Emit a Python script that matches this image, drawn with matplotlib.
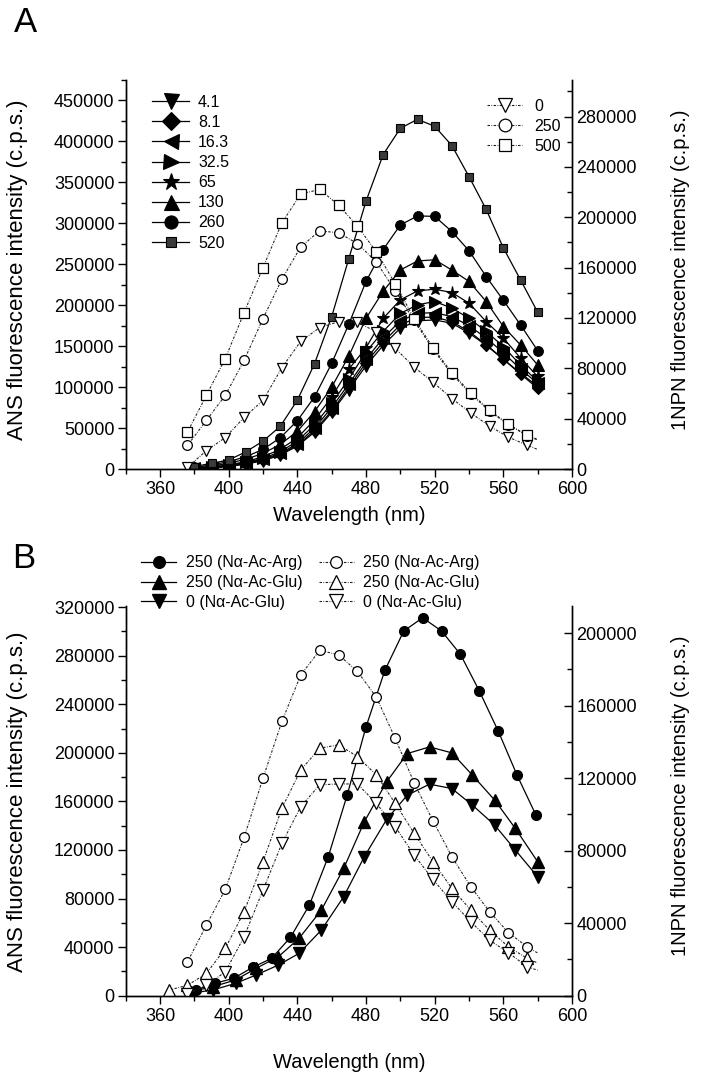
import matplotlib
matplotlib.use('Agg')
import matplotlib.pyplot as plt
from matplotlib.ticker import MultipleLocator

plt.rcParams['font.family'] = ['Liberation Sans', 'DejaVu Sans']

# ---------------- Panel A data ----------------
# ANS (left axis), filled symbols, concentration labels
wl_A_ans = [380, 390, 400, 410, 420, 430, 440, 450, 460, 470, 480,
            490, 500, 510, 520, 530, 540, 550, 560, 570, 580]
ans_4_1 = [400, 1200, 3000, 6000, 10000, 17000, 28000, 45000, 69000, 97000, 126000,
           151000, 172000, 181000, 182000, 178000, 166000, 151000, 134000, 117000, 101000]
ans_8_1 = [500, 1500, 3500, 6500, 11000, 18000, 29000, 47000, 71000, 100000, 130000,
           155000, 176000, 185000, 185500, 180000, 168000, 152000, 134000, 116000, 98500]
ans_16_3 = [700, 1800, 4000, 7500, 12000, 19000, 31000, 50000, 75000, 104000, 134000,
            160000, 181000, 190000, 191000, 186000, 175000, 160000, 142000, 122000, 104500]
ans_32_5 = [800, 2000, 4500, 8000, 13000, 21000, 34000, 54000, 80000, 110000, 143000,
            168000, 190000, 200500, 204500, 196500, 184000, 168000, 149500, 127000, 107000]
ans_65 = [1000, 2500, 5000, 9000, 15000, 24000, 38000, 60000, 88000, 122000, 148000,
          184000, 206500, 217500, 219500, 215500, 202500, 180000, 160000, 135500, 113000]
ans_130 = [1500, 3500, 7000, 12000, 19000, 30000, 46000, 70000, 100000, 138000, 184000,
           217000, 243000, 254000, 255500, 243000, 229000, 204500, 174000, 151500, 127000]
ans_260 = [2000, 5000, 9000, 15000, 24000, 38000, 59000, 88000, 129000, 177000, 229000,
           268000, 298000, 309000, 308500, 290000, 266500, 235000, 206000, 176000, 144500]
ans_520 = [3000, 7000, 11000, 21000, 34000, 52000, 84000, 128500, 186000, 257000, 327000,
           384000, 416000, 427000, 418500, 395000, 357000, 317000, 270000, 231000, 191500]
ans_labels_A = ['4.1', '8.1', '16.3', '32.5', '65', '130', '260', '520']

# 1NPN (right axis), open symbols
wl_A_npn = [376, 387, 398, 409, 420, 431, 442, 453, 464, 475, 486,
            497, 508, 519, 530, 541, 552, 563, 574, 580]
npn_0 = [1500, 14500, 25000, 41000, 54500, 80500, 101500, 112300, 117000, 116500, 109000,
         96000, 81000, 69000, 56000, 44500, 34000, 25300, 18800, 15500]
npn_250 = [18750, 38600, 58500, 86400, 119500, 150800, 176500, 189200, 187600, 179100, 164500,
           141500, 118000, 95000, 75500, 59500, 46000, 35000, 26500, 23000]
npn_500 = [29400, 58500, 87700, 124300, 160000, 195600, 218400, 222100, 209600, 192900, 172500,
           147300, 119500, 96400, 76500, 60500, 46600, 35500, 26700, 23500]
npn_labels_A = ['0', '250', '500']

# ---------------- Panel B data ----------------
wl_B_arg = [381, 392, 403, 414, 425, 436, 447, 458, 469, 480, 491,
            502, 513, 524, 535, 546, 557, 568, 579]
ans_B_250_arg = [4650, 10100, 14300, 23300, 30700, 48000, 74600, 114400, 165100, 221400, 268000,
                 300400, 311300, 300400, 281200, 251000, 218000, 181600, 148700]
wl_B_glu = [378, 391, 404, 416, 429, 441, 454, 467, 479, 492, 504,
            517, 530, 542, 555, 567, 580]
ans_B_250_glu = [3300, 7400, 12900, 22500, 32100, 47200, 70500, 104800, 143200, 176100, 199400,
                 204900, 200000, 181600, 161000, 137700, 110300]
ans_B_0_glu = [1900, 4700, 10100, 17000, 25200, 34800, 54000, 81500, 114400, 145100, 165100,
               174200, 170600, 156900, 140400, 119900, 97900]

wl_B_npn = [376, 387, 398, 409, 420, 431, 442, 453, 464, 475, 486,
            497, 508, 519, 530, 541, 552, 563, 574, 580]
npn_B_250_arg = [18600, 38900, 58600, 87400, 120000, 151300, 177000, 190500, 188100, 178900, 164700,
                 142000, 117500, 96400, 76700, 60100, 46300, 34700, 26900, 23500]
wl_B_npn_glu250 = [365, 376, 387, 398, 409, 420, 431, 442, 453, 464, 475,
                   486, 497, 508, 519, 530, 541, 552, 563, 574, 580]
npn_B_250_glu = [3000, 5700, 12200, 26000, 46300, 73900, 103400, 124500, 136500, 138400, 131900,
                 121800, 106100, 89600, 73900, 59200, 47200, 36100, 26900, 20500, 18000]
npn_B_0_glu = [1100, 5700, 13100, 32500, 58200, 84000, 104300, 116300, 116800, 116800, 106100,
               93200, 77600, 64100, 51800, 40800, 30600, 23600, 15900, 14000]
labels_B = ['250 (N\u03b1-Ac-Arg)', '250 (N\u03b1-Ac-Glu)', '0 (N\u03b1-Ac-Glu)']

# ---------------- Figure ----------------
W, H = 701, 1085
fig = plt.figure(figsize=(W / 100, H / 100), dpi=100)


def rect(l, r, b, t):
    return [l / W, 1 - b / H, (r - l) / W, (b - t) / H]


TICKFS = 13
VLABELFS = 16
RLABELFS = 14.5
HLABELFS = 14.5
DOT = (0, (2.2, 1.3, 0.7, 1.3))
LW = 0.9


def style(ax, ax2, ymaj, ymin, ymaj2, ymin2, ylim, ylim2):
    ax.set_xlim(340, 600)
    ax.set_ylim(*ylim)
    ax2.set_ylim(*ylim2)
    ax.xaxis.set_major_locator(MultipleLocator(40))
    ax.xaxis.set_minor_locator(MultipleLocator(20))
    ax.yaxis.set_major_locator(MultipleLocator(ymaj))
    ax.yaxis.set_minor_locator(MultipleLocator(ymin))
    ax2.yaxis.set_major_locator(MultipleLocator(ymaj2))
    ax2.yaxis.set_minor_locator(MultipleLocator(ymin2))
    for a in (ax, ax2):
        a.spines['top'].set_visible(False)
        for s in a.spines.values():
            s.set_linewidth(1.0)
    ax.tick_params(axis='both', which='major', direction='out', length=6, width=1,
                   labelsize=TICKFS, pad=2)
    ax.tick_params(axis='both', which='minor', direction='out', length=3.5, width=1)
    ax.tick_params(axis='y', right=False)
    ax.tick_params(axis='x', top=False, pad=3)
    ax2.tick_params(axis='y', which='major', direction='in', length=6, width=1,
                    labelsize=TICKFS, pad=3)
    ax2.tick_params(axis='y', which='minor', direction='in', length=3.5, width=1)
    ax.xaxis.set_major_formatter(plt.FuncFormatter(lambda v, p: f'{v:.0f}'))
    ax.yaxis.set_major_formatter(plt.FuncFormatter(lambda v, p: f'{v:.0f}'))
    ax2.yaxis.set_major_formatter(plt.FuncFormatter(lambda v, p: f'{v:.0f}'))


# ---------- Panel A ----------
axA = fig.add_axes(rect(125.7, 572, 469, 80))
axA2 = axA.twinx()
style(axA, axA2, 50000, 25000, 40000, 20000, (0, 475000), (0, 309000))

filled_A = [
    (ans_4_1, 'v', 8.0, 'black'),
    (ans_8_1, 'D', 6.5, 'black'),
    (ans_16_3, '<', 8.0, 'black'),
    (ans_32_5, '>', 8.0, 'black'),
    (ans_65, '*', 9.5, 'black'),
    (ans_130, '^', 8.0, 'black'),
    (ans_260, 'o', 7.0, 'black'),
    (ans_520, 's', 5.5, '#3a3a3a'),
]
handles_A = []
for (vals, m, ms, fc), lab in zip(filled_A, ans_labels_A):
    h, = axA.plot(wl_A_ans, vals, color='black', lw=LW, marker=m, ms=ms,
                  mfc=fc, mec='black', mew=0.8, label=lab)
    handles_A.append(h)

open_A = [(npn_0, 'v', 7.5), (npn_250, 'o', 7.0), (npn_500, 's', 6.5)]
handles_A2 = []
for (vals, m, ms), lab in zip(open_A, npn_labels_A):
    h, = axA2.plot(wl_A_npn, vals, color='#222222', lw=0.8, ls=DOT, marker=m, ms=ms,
                   mfc='white', mec='black', mew=0.9, markevery=list(range(len(vals) - 1)),
                   label=lab)
    handles_A2.append(h)

legA = axA.legend(handles=handles_A, loc='upper left', bbox_to_anchor=(0.06, 0.962),
                  frameon=False, fontsize=11.5, handlelength=2.3, handletextpad=0.55,
                  labelspacing=0.32, markerscale=1.35, borderaxespad=0, borderpad=0)
legA2 = axA2.legend(handles=handles_A2, loc='upper left', bbox_to_anchor=(0.81, 0.952),
                    frameon=False, fontsize=11.5, handlelength=2.2, handletextpad=0.75,
                    labelspacing=0.32, markerscale=1.3, borderaxespad=0, borderpad=0)

# ---------- Panel B ----------
axB = fig.add_axes(rect(125.7, 572, 995.6, 606))
axB2 = axB.twinx()
style(axB, axB2, 40000, 20000, 40000, 20000, (0, 321000), (0, 215000))

hB = []
h, = axB.plot(wl_B_arg, ans_B_250_arg, color='black', lw=LW, marker='o', ms=7.0,
              mfc='black', mec='black', label=labels_B[0])
hB.append(h)
h, = axB.plot(wl_B_glu, ans_B_250_glu, color='black', lw=LW, marker='^', ms=8.0,
              mfc='black', mec='black', label=labels_B[1])
hB.append(h)
h, = axB.plot(wl_B_glu, ans_B_0_glu, color='black', lw=LW, marker='v', ms=8.0,
              mfc='black', mec='black', label=labels_B[2])
hB.append(h)
h, = axB2.plot(wl_B_npn, npn_B_250_arg, color='#222222', lw=0.8, ls=DOT, marker='o', ms=7.0,
               mfc='white', mec='black', mew=0.9,
               markevery=list(range(len(npn_B_250_arg) - 1)), label=labels_B[0])
hB.append(h)
h, = axB2.plot(wl_B_npn_glu250, npn_B_250_glu, color='#222222', lw=0.8, ls=DOT, marker='^',
               ms=8.0, mfc='white', mec='black', mew=0.9,
               markevery=list(range(len(npn_B_250_glu) - 1)), label=labels_B[1])
hB.append(h)
h, = axB2.plot(wl_B_npn, npn_B_0_glu, color='#222222', lw=0.8, ls=DOT, marker='v', ms=8.0,
               mfc='white', mec='black', mew=0.9,
               markevery=list(range(len(npn_B_0_glu) - 1)), label=labels_B[2])
hB.append(h)

legB = axB2.legend(handles=hB, ncol=2, loc='upper left', bbox_to_anchor=(0.035, 1.13),
                   frameon=False, fontsize=11.5, handlelength=2.2, handletextpad=0.6,
                   labelspacing=0.3, columnspacing=1.0, markerscale=1.2,
                   borderaxespad=0, borderpad=0)

# ---------- Labels ----------
fig.text(25 / W, 1 - 22 / H, 'A', fontsize=25, ha='center', va='center')
fig.text(24 / W, 1 - 558 / H, 'B', fontsize=25, ha='center', va='center')

ylab_l = 'ANS fluorescence intensity (c.p.s.)'
ylab_r = '1NPN fluorescence intensity (c.p.s.)'
fig.text(18 / W, 1 - 270 / H, ylab_l, rotation=90, fontsize=VLABELFS, ha='center', va='center')
fig.text(681 / W, 1 - 270 / H, ylab_r, rotation=90, fontsize=RLABELFS, ha='center', va='center')
fig.text(18 / W, 1 - 802 / H, ylab_l, rotation=90, fontsize=VLABELFS, ha='center', va='center')
fig.text(680 / W, 1 - 796 / H, ylab_r, rotation=90, fontsize=RLABELFS, ha='center', va='center')
fig.text(349 / W, 1 - 515 / H, 'Wavelength (nm)', fontsize=HLABELFS, ha='center', va='center')
fig.text(349 / W, 1 - 1062 / H, 'Wavelength (nm)', fontsize=HLABELFS, ha='center', va='center')

fig.savefig('out.png', dpi=100)
